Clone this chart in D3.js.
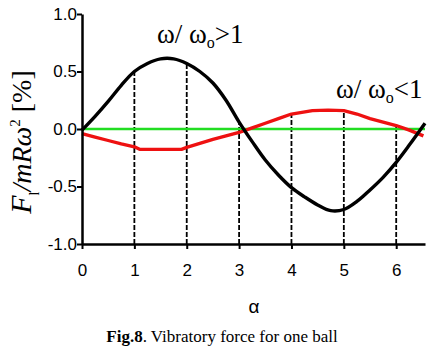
<!DOCTYPE html>
<html>
<head>
<meta charset="utf-8">
<script src="https://cdn.jsdelivr.net/npm/d3@7"></script>
<style>
  body { margin: 0; background: #fff; }
  svg { display: block; }
</style>
</head>
<body>
<div id="chart"></div>
<script>
// alpha positions and force values
const alphaHigh = [0, 0.25, 0.5, 0.75, 1, 1.25, 1.5, 1.75, 2, 2.25, 2.5, 2.75, 3, 3.25, 3.5, 3.75, 4, 4.25, 4.5, 4.75, 5, 5.25, 5.5, 5.75, 6, 6.25, 6.55];
const forceHigh = [-0.01, 0.11, 0.24, 0.38, 0.50, 0.57, 0.61, 0.61, 0.57, 0.50, 0.40, 0.25, 0.06, -0.11, -0.27, -0.40, -0.51, -0.59, -0.66, -0.71, -0.70, -0.63, -0.53, -0.42, -0.29, -0.14, 0.05];
const alphaLow = [0, 0.25, 0.5, 0.75, 1, 1.1, 1.5, 1.9, 2, 2.25, 2.5, 2.75, 3, 3.25, 3.5, 3.75, 4, 4.4, 4.7, 5, 5.25, 5.5, 5.75, 6, 6.25, 6.52];
const forceLow = [-0.04, -0.07, -0.10, -0.13, -0.155, -0.177, -0.177, -0.177, -0.16, -0.125, -0.09, -0.06, -0.03, 0.01, 0.05, 0.09, 0.13, 0.16, 0.165, 0.16, 0.13, 0.09, 0.06, 0.03, -0.01, -0.06];
const zeroLine = [[0, 0], [6.55, 0]];
const dashAlpha = [1, 2, 3, 4, 5, 6];
const dashTop = [0.50, 0.57, 0.06, 0.13, 0.16, 0.03];
const xTicks = [0, 1, 2, 3, 4, 5, 6];
const yTicks = [-1, -0.5, 0, 0.5, 1];

const width = 432, height = 349;
const svg = d3.select('#chart').append('svg').attr('width', width).attr('height', height);

const x = d3.scaleLinear().domain([0, 6.55]).range([82, 425]);
const y = d3.scaleLinear().domain([-1, 1]).range([244, 14]);

// dashed guides
svg.append('g').selectAll('line').data(dashAlpha).join('line')
  .attr('x1', (d) => x(d)).attr('x2', (d) => x(d))
  .attr('y1', y(-1)).attr('y2', (d, i) => y(dashTop[i]))
  .attr('stroke', '#000').attr('stroke-width', 1.8).attr('stroke-dasharray', '5,2');

const line = d3.line().x((d) => x(d[0])).y((d) => y(d[1]));
const smooth = d3.line().x((d) => x(d[0])).y((d) => y(d[1])).curve(d3.curveCatmullRom);

svg.append('path').datum(zeroLine).attr('d', line)
  .attr('fill', 'none').attr('stroke', '#22dd22').attr('stroke-width', 2.6);
svg.append('path').datum(alphaLow.map((a, i) => [a, forceLow[i]])).attr('d', line)
  .attr('fill', 'none').attr('stroke', '#ee1111').attr('stroke-width', 3.3).attr('stroke-linejoin', 'round');
svg.append('path').datum(alphaHigh.map((a, i) => [a, forceHigh[i]])).attr('d', smooth)
  .attr('fill', 'none').attr('stroke', '#000').attr('stroke-width', 3.4);

// axes
const xAxis = svg.append('g').attr('transform', `translate(0,${y(-1)})`)
  .call(d3.axisBottom(x).tickValues(xTicks).tickSize(5).tickSizeOuter(0).tickPadding(15).tickFormat((d) => d));
const yAxis = svg.append('g').attr('transform', `translate(${x(0)},0)`)
  .call(d3.axisLeft(y).tickValues(yTicks).tickSize(5).tickSizeOuter(0).tickPadding(0).tickFormat((d) => d.toFixed(1)));
[xAxis, yAxis].forEach((ax) => {
  ax.select('.domain').attr('stroke-width', 2.5);
  ax.selectAll('.tick line').attr('stroke-width', 2);
  ax.selectAll('text').attr('font-family', 'Liberation Sans, Arial, sans-serif').attr('font-size', 17).attr('fill', '#000');
});

// axis titles
svg.append('text').attr('x', 254).attr('y', 313).attr('text-anchor', 'middle')
  .attr('font-family', 'Liberation Sans, Arial, sans-serif').attr('font-size', 19).text('α');

const yl = svg.append('text').attr('transform', 'translate(31,142) rotate(-90)')
  .attr('text-anchor', 'middle').attr('font-family', 'Liberation Serif, Times New Roman, serif').attr('font-size', 28);
yl.append('tspan').attr('font-style', 'italic').attr('font-size', 30).text('F');
yl.append('tspan').attr('font-size', 14).attr('dy', 8).text('l');
yl.append('tspan').attr('font-style', 'italic').attr('dy', -8).text('/mRω');
yl.append('tspan').attr('font-size', 15).attr('dy', -11).text('2');
yl.append('tspan').attr('dy', 11).text(' [%]');

// curve annotations
function ratioLabel(px, py, sign) {
  const t = svg.append('text').attr('x', px).attr('y', py)
    .attr('font-family', 'Liberation Serif, Times New Roman, serif').attr('font-size', 27);
  t.append('tspan').text('ω/ ω');
  t.append('tspan').attr('font-size', 16).attr('dy', 5).text('o');
  t.append('tspan').attr('dy', -5).text(sign + '1');
}
ratioLabel(157, 43, '>');
ratioLabel(336, 98, '<');

// caption
const cap = svg.append('text').attr('x', 222).attr('y', 342).attr('text-anchor', 'middle')
  .attr('font-family', 'Liberation Serif, Times New Roman, serif').attr('font-size', 17);
cap.append('tspan').attr('font-weight', 'bold').text('Fig.8');
cap.append('tspan').text('. Vibratory force for one ball');
</script>
</body>
</html>
